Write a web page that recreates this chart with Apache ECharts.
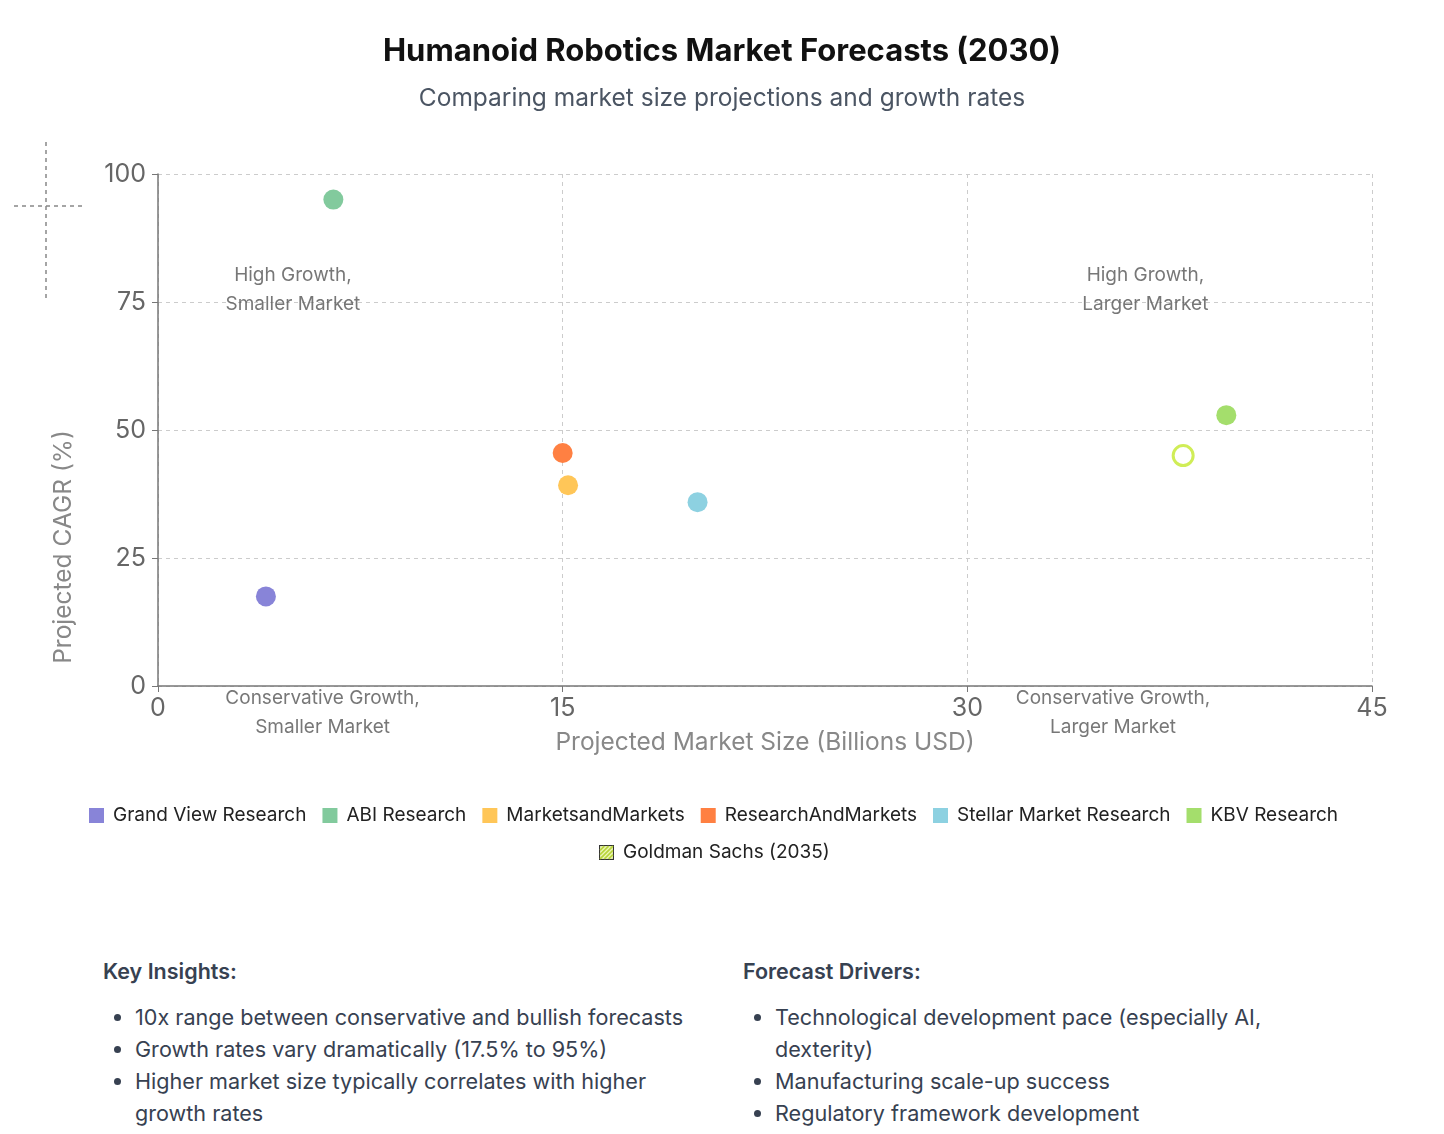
<!DOCTYPE html>
<html>
<head>
<meta charset="utf-8">
<title>Humanoid Robotics Market Forecasts (2030)</title>
<script src="https://cdn.jsdelivr.net/npm/echarts@6/dist/echarts.min.js"></script>
<style>
	html, body { margin: 0; padding: 0; background: #fff; }
	body { width: 1444px; height: 1134px; position: relative; overflow: hidden; font-family: Inter, "Noto Sans", sans-serif; }
	#chart { position: absolute; left: 0; top: 0; width: 1444px; height: 920px; }
	.notes { position: absolute; left: 103px; top: 955px; width: 1240px; display: grid; grid-template-columns: 600px 600px; column-gap: 40px; color: #374151; }
	.notes h4 { margin: 0 0 14px 0; font-size: 21.5px; font-weight: 600; line-height: 32px; }
	.notes ul { margin: 0; padding-left: 32px; font-size: 21.6px; line-height: 32px; }
</style>
</head>
<body>
<div id="chart"></div>
<div class="notes">
	<div>
		<h4>Key Insights:</h4>
		<ul>
			<li>10x range between conservative and bullish forecasts</li>
			<li>Growth rates vary dramatically (17.5% to 95%)</li>
			<li>Higher market size typically correlates with higher growth rates</li>
		</ul>
	</div>
	<div>
		<h4>Forecast Drivers:</h4>
		<ul>
			<li>Technological development pace (especially AI, dexterity)</li>
			<li>Manufacturing scale-up success</li>
			<li>Regulatory framework development</li>
		</ul>
	</div>
</div>
<script>
	// 数据
	var sources = ['Grand View Research', 'ABI Research', 'MarketsandMarkets', 'ResearchAndMarkets',
		'Stellar Market Research', 'KBV Research', 'Goldman Sachs (2035)'];
	var marketSize = [4.0, 6.5, 15.2, 15.0, 20.0, 39.6, 38.0];   // billions USD
	var cagr = [17.5, 95, 39.2, 45.5, 35.9, 52.9, 45];           // %
	var colors = ['#8884d8', '#82ca9d', '#ffc658', '#ff8042', '#8dd1e1', '#a4de6c', '#d0ed57'];
	var xTicks = [0, 15, 30, 45];
	var yTicks = [0, 25, 50, 75, 100];
	// quadrant notes: [x, y, text]
	var quadrantNotes = [
		[5.0, 77.3, 'High Growth,\nSmaller Market'],
		[36.6, 77.3, 'High Growth,\nLarger Market'],
		[6.1, -5.3, 'Conservative Growth,\nSmaller Market'],
		[35.4, -5.3, 'Conservative Growth,\nLarger Market']
	];

	var font = 'Inter, "Noto Sans", sans-serif';
	var hatchIcon = 'image://data:image/svg+xml;utf8,' + encodeURIComponent(
		'<svg xmlns="http://www.w3.org/2000/svg" width="14" height="14">' +
		'<rect x="0.5" y="0.5" width="13" height="13" fill="#eef7b8" stroke="#333" stroke-width="1"/>' +
		'<path d="M1 5 L5 1 M1 9 L9 1 M1 13 L13 1 M5 13 L13 5 M9 13 L13 9" stroke="#b8d43c" stroke-width="1.6"/>' +
		'</svg>');

	var chart = echarts.init(document.getElementById('chart'));

	var series = [];
	for (var i = 0; i < sources.length; i++) {
		var hollow = i === sources.length - 1;
		series.push({
			name: sources[i],
			type: 'scatter',
			symbol: 'circle',
			symbolSize: 20,
			data: [[marketSize[i], cagr[i]]],
			itemStyle: hollow ? { color: '#fff', borderColor: colors[i], borderWidth: 3, opacity: 1 }
				: { color: colors[i], opacity: 1 },
			emphasis: { scale: false }
		});
	}
	//象限说明文字
	series.push({
		name: 'notes',
		type: 'scatter',
		symbolSize: 0,
		silent: true,
		clip: false,
		data: quadrantNotes.map(function(n) { return { value: [n[0], n[1]], note: n[2] }; }),
		label: {
			show: true,
			position: 'inside',
			formatter: function(p) { return p.data.note; },
			fontFamily: font,
			fontSize: 19,
			lineHeight: 29,
			color: '#555'
		}
	});

	var axisText = { fontFamily: font, fontSize: 25, color: '#666' };
	var legendText = { fontFamily: font, fontSize: 19, color: '#222', padding: [0, 0, 0, 4] };
	var option = {
		animation: false,
		title: {
			text: 'Humanoid Robotics Market Forecasts (2030)',
			subtext: 'Comparing market size projections and growth rates',
			left: 'center',
			top: 31,
			itemGap: 19,
			textStyle: { fontFamily: font, fontSize: 31, fontWeight: 'bold', color: '#111' },
			subtextStyle: { fontFamily: font, fontSize: 24.5, color: '#4b5563' }
		},
		legend: [{
			data: sources.slice(0, 6),
			left: 84,
			top: 801,
			icon: 'rect',
			itemWidth: 15,
			itemHeight: 15,
			itemGap: 16,
			textStyle: legendText
		}, {
			data: [{ name: sources[6], icon: hatchIcon }],
			left: 594,
			top: 838,
			itemWidth: 15,
			itemHeight: 15,
			textStyle: legendText
		}],
		grid: { left: 158, right: 72, top: 174, bottom: 234, containLabel: false },
		xAxis: {
			type: 'value',
			min: xTicks[0],
			max: xTicks[xTicks.length - 1],
			interval: xTicks[1] - xTicks[0],
			name: 'Projected Market Size (Billions USD)',
			nameLocation: 'middle',
			nameGap: 44,
			nameTextStyle: { fontFamily: font, fontSize: 24.5, color: '#888' },
			axisLine: { lineStyle: { color: '#777', width: 1.5 } },
			axisTick: { show: true, length: 6, lineStyle: { color: '#777' } },
			axisLabel: Object.assign({ margin: 10 }, axisText),
			splitLine: { show: true, lineStyle: { color: '#ccc', type: [4, 4] } }
		},
		yAxis: {
			type: 'value',
			min: yTicks[0],
			max: yTicks[yTicks.length - 1],
			interval: yTicks[1] - yTicks[0],
			name: 'Projected CAGR (%)',
			nameLocation: 'middle',
			nameRotate: 90,
			nameGap: 82,
			nameTextStyle: { fontFamily: font, fontSize: 24.5, color: '#888', padding: [0, 234, 0, 0] },
			axisLine: { show: true, lineStyle: { color: '#777', width: 1.5 } },
			axisTick: { show: true, length: 6, lineStyle: { color: '#777' } },
			axisLabel: Object.assign({ margin: 12 }, axisText),
			splitLine: { show: true, lineStyle: { color: '#ccc', type: [4, 4] } }
		},
		//左上角的十字光标
		graphic: [{
			type: 'line',
			silent: true,
			shape: { x1: 46, y1: 142, x2: 46, y2: 300 },
			style: { stroke: '#888', lineWidth: 1.5, lineDash: [4, 4] }
		}, {
			type: 'line',
			silent: true,
			shape: { x1: 14, y1: 206, x2: 86, y2: 206 },
			style: { stroke: '#888', lineWidth: 1.5, lineDash: [4, 4] }
		}],
		series: series
	};
	chart.setOption(option);
</script>
</body>
</html>
